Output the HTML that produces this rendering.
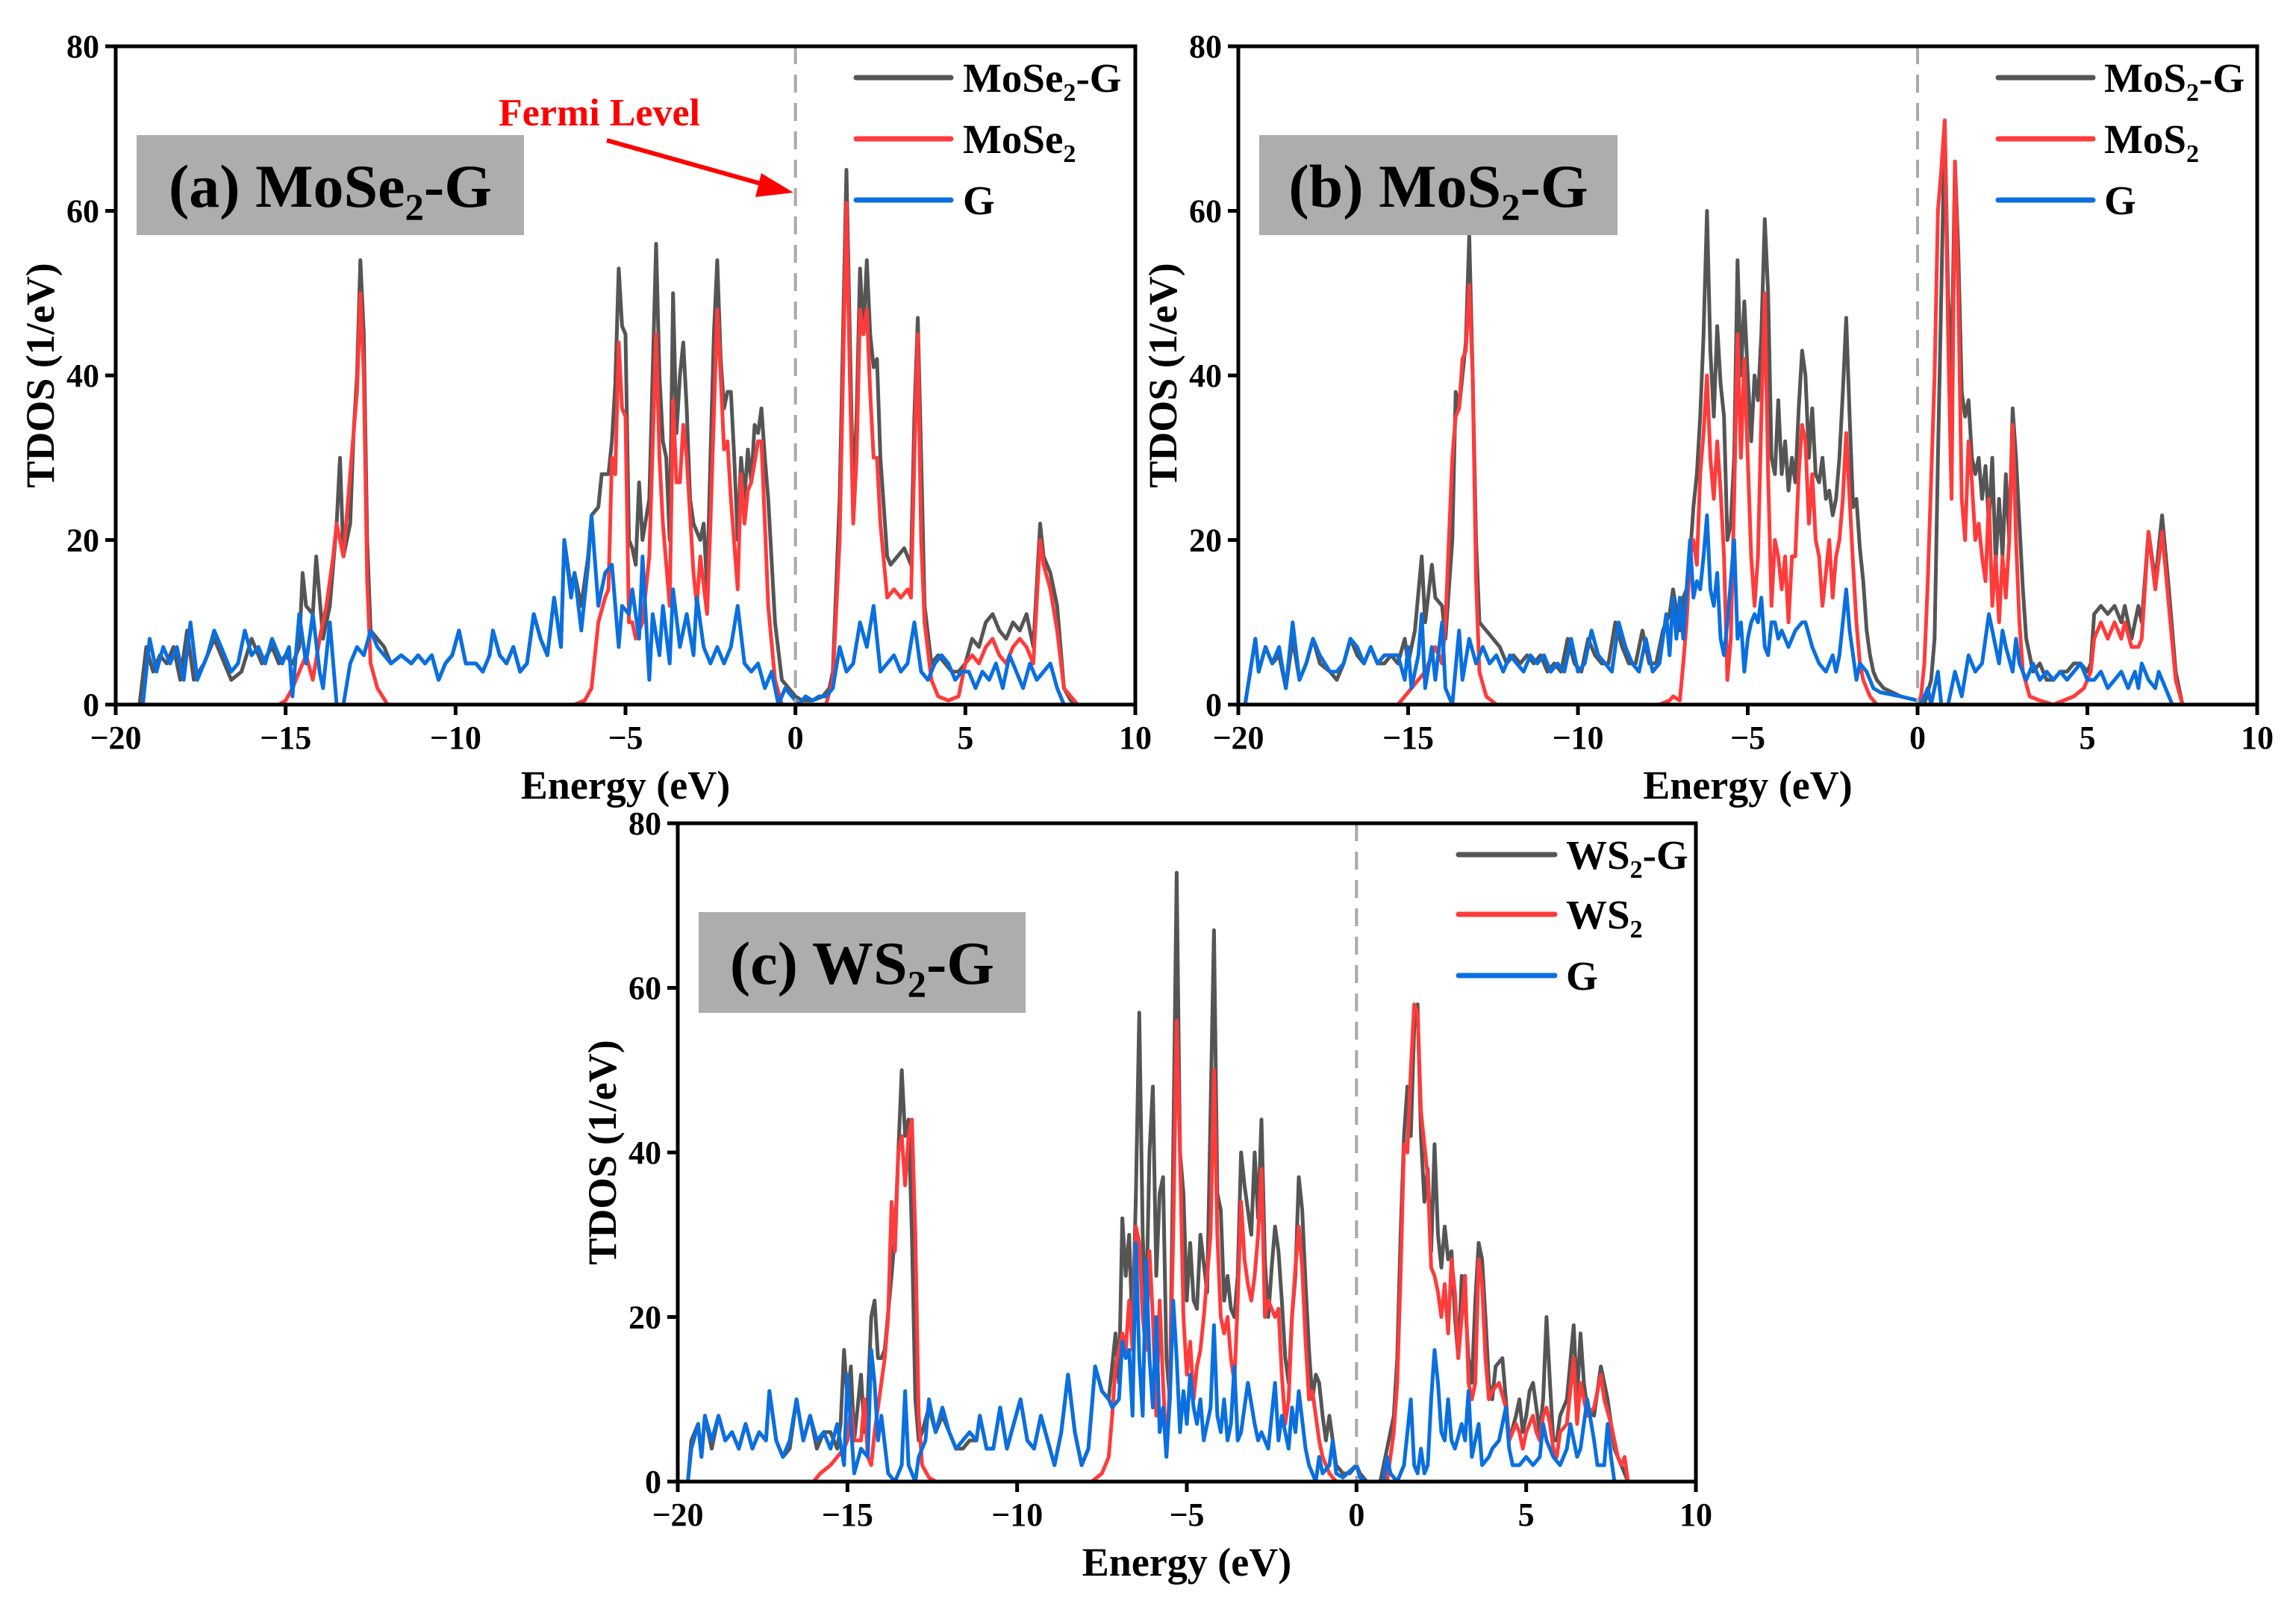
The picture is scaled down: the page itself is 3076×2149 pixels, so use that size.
<!DOCTYPE html>
<html><head><meta charset="utf-8">
<style>
html,body{margin:0;padding:0;background:#fff;}
svg{display:block;}
text{font-family:"Liberation Serif",serif;font-weight:bold;}
</style></head>
<body>
<svg id="fig" width="3076" height="2149" viewBox="0 0 3076 2149" xmlns="http://www.w3.org/2000/svg"></svg>
<script>
// ---------- DATA (energy in eV, TDOS in 1/eV) ----------
const xTicks = [-20,-15,-10,-5,0,5,10];
const xTickLabels = ["\u221220","\u221215","\u221210","\u22125","0","5","10"];
const yTicks = [0,20,40,60,80];
const yTickLabels = ["0","20","40","60","80"];

// Panel (a) MoSe2-G
const aTotalE = [-20,-19.6,-19.3,-19.1,-18.9,-18.7,-18.5,-18.3,-18.1,-17.9,-17.7,-17.4,-17.1,-16.9,-16.6,-16.3,-16.0,-15.7,-15.4,-15.2,-15.0,-14.8,-14.6,-14.5,-14.4,-14.2,-14.1,-13.9,-13.7,-13.5,-13.4,-13.3,-13.1,-13.0,-12.9,-12.8,-12.7,-12.6,-12.5,-12.3,-12.1,-11.9,-11.6,-11.3,-11.1,-10.9,-10.7,-10.5,-10.3,-10.1,-9.9,-9.7,-9.4,-9.2,-9.0,-8.9,-8.7,-8.5,-8.3,-8.1,-7.9,-7.7,-7.5,-7.3,-7.1,-6.9,-6.8,-6.6,-6.5,-6.3,-6.1,-6.0,-5.8,-5.7,-5.5,-5.4,-5.3,-5.2,-5.1,-5.0,-4.9,-4.8,-4.7,-4.6,-4.5,-4.3,-4.1,-4.0,-3.9,-3.8,-3.7,-3.6,-3.5,-3.4,-3.3,-3.2,-3.1,-3.0,-2.8,-2.7,-2.6,-2.5,-2.4,-2.3,-2.2,-2.1,-2.0,-1.9,-1.8,-1.7,-1.6,-1.5,-1.4,-1.3,-1.2,-1.1,-1.0,-0.9,-0.8,-0.6,-0.4,-0.2,0,0.2,0.5,0.8,1.0,1.1,1.3,1.4,1.5,1.6,1.7,1.8,1.9,2.0,2.1,2.2,2.3,2.4,2.5,2.7,2.8,3.0,3.2,3.4,3.5,3.6,3.7,3.8,4.0,4.2,4.4,4.6,4.8,5.0,5.2,5.4,5.6,5.8,6.0,6.2,6.4,6.6,6.8,7.0,7.2,7.3,7.5,7.7,7.9,8.1,8.3,10];
const aTotalV = [0,0,0,7,4,6,5,7,3,9,3,5,8,6,3,4,8,5,7,5,6,5,7,16,12,11,18,8,12,22,30,18,22,33,40,54,45,20,9,8,7,5,6,5,6,5,6,3,5,6,9,5,5,4,6,9,6,5,7,4,5,11,8,6,13,7,20,14,16,12,18,23,24,28,28,32,39,53,46,45,20,19,17,27,20,25,56,40,32,30,20,50,33,40,44,36,25,22,20,22,14,30,45,54,42,36,38,38,30,20,30,25,31,27,34,33,36,30,25,10,3,2,1,0.5,0.5,1,2,4,25,45,65,45,25,35,53,45,54,45,41,42,30,18,17,18,19,17,35,47,30,12,5,6,5,4,4,5,8,7,10,11,9,8,10,9,11,7,22,18,16,12,2,0.5,0,0];
const aHostE = [-20,-15.2,-15.0,-14.8,-14.6,-14.4,-14.2,-14.0,-13.8,-13.6,-13.5,-13.3,-13.1,-13.0,-12.9,-12.8,-12.7,-12.6,-12.5,-12.3,-12.0,-6.5,-6.2,-6.0,-5.8,-5.6,-5.5,-5.4,-5.3,-5.2,-5.1,-5.0,-4.9,-4.8,-4.7,-4.5,-4.3,-4.1,-4.0,-3.9,-3.7,-3.6,-3.5,-3.4,-3.3,-3.2,-3.0,-2.9,-2.8,-2.6,-2.5,-2.3,-2.2,-2.1,-2.0,-1.9,-1.7,-1.6,-1.5,-1.4,-1.3,-1.1,-1.0,-0.9,-0.8,-0.6,-0.4,0.9,1.1,1.3,1.4,1.5,1.6,1.7,1.8,1.9,2.0,2.1,2.2,2.3,2.4,2.5,2.7,2.9,3.1,3.3,3.4,3.5,3.6,3.7,3.8,4.0,4.2,4.5,4.8,5.0,5.2,5.4,5.6,5.8,6.0,6.2,6.4,6.6,6.8,7.0,7.2,7.3,7.5,7.7,7.9,8.1,8.3,10];
const aHostV = [0,0,0.5,2,4,6,3,8,12,18,22,18,28,33,38,50,40,15,5,2,0,0,0.5,2,10,13,14,30,28,44,36,35,10,10,8,10,18,45,30,22,12,37,27,27,34,30,16,12,18,11,22,48,40,31,32,25,14,28,22,26,27,32,32,22,12,3,0,0,3,20,40,61,40,22,30,48,45,48,38,30,30,22,13,14,13,14,13,30,45,20,10,3,1,0.5,1,5,6,5,7,8,6,5,7,8,7,5,20,17,14,9,2,1,0,0];
const aGE = [-20,-19.2,-19.0,-18.8,-18.6,-18.4,-18.2,-18.0,-17.8,-17.6,-17.3,-17.1,-16.9,-16.6,-16.4,-16.2,-16.0,-15.8,-15.6,-15.4,-15.1,-14.9,-14.8,-14.6,-14.4,-14.2,-14.0,-13.9,-13.7,-13.5,-13.3,-13.1,-12.9,-12.7,-12.5,-12.3,-12.1,-11.9,-11.6,-11.3,-11.1,-10.9,-10.7,-10.5,-10.3,-10.1,-9.9,-9.7,-9.4,-9.2,-9.0,-8.9,-8.7,-8.5,-8.3,-8.1,-7.9,-7.7,-7.5,-7.3,-7.1,-6.9,-6.8,-6.6,-6.5,-6.3,-6.1,-6.0,-5.8,-5.6,-5.4,-5.2,-5.1,-4.9,-4.8,-4.6,-4.5,-4.3,-4.2,-4.0,-3.9,-3.7,-3.6,-3.4,-3.2,-3.0,-2.9,-2.7,-2.5,-2.3,-2.1,-1.9,-1.7,-1.5,-1.3,-1.1,-0.9,-0.7,-0.5,-0.3,-0.1,0.1,0.3,0.5,0.7,0.9,1.1,1.3,1.5,1.7,1.9,2.1,2.3,2.5,2.7,2.9,3.1,3.3,3.5,3.7,3.9,4.1,4.3,4.5,4.7,4.9,5.1,5.3,5.5,5.7,5.9,6.1,6.3,6.5,6.7,6.9,7.1,7.3,7.5,7.7,7.9,10];
const aGV = [0,0,8,4,7,5,7,3,10,3,6,9,7,4,5,9,6,7,5,8,5,7,1,11,5,11,4,2,10,0,0,5,7,6,9,7,6,5,6,5,6,5,6,3,5,6,9,5,5,4,6,9,6,5,7,4,5,11,8,6,13,7,20,13,16,9,17,23,12,16,17,7,12,11,14,8,18,3,11,6,12,5,14,7,11,6,13,7,5,7,5,7,12,5,4,5,2,4,0,2,1,0,1,0.5,1,1,2,7,4,5,10,7,12,4,5,6,4,5,10,4,3,5,6,5,3,4,4,2,4,3,5,2,6,4,2,5,3,4,5,2,0,0];

// Panel (b) MoS2-G
const bTotalE = [-20,-19.8,-19.5,-19.4,-19.2,-19.0,-18.8,-18.6,-18.4,-18.2,-18.0,-17.8,-17.6,-17.3,-17.1,-16.9,-16.7,-16.5,-16.3,-16.1,-15.9,-15.7,-15.5,-15.3,-15.1,-15.0,-14.8,-14.6,-14.5,-14.3,-14.2,-14.0,-13.9,-13.7,-13.6,-13.5,-13.4,-13.3,-13.2,-13.1,-13.0,-12.9,-12.7,-12.5,-12.3,-12.1,-11.9,-11.7,-11.5,-11.3,-11.1,-10.9,-10.7,-10.5,-10.3,-10.1,-9.9,-9.7,-9.5,-9.3,-9.1,-8.9,-8.7,-8.5,-8.3,-8.1,-7.9,-7.7,-7.5,-7.3,-7.2,-7.0,-6.9,-6.8,-6.7,-6.6,-6.5,-6.4,-6.3,-6.2,-6.1,-6.0,-5.9,-5.8,-5.7,-5.6,-5.5,-5.4,-5.3,-5.2,-5.1,-5.0,-4.9,-4.8,-4.7,-4.6,-4.5,-4.4,-4.3,-4.2,-4.1,-4.0,-3.9,-3.8,-3.7,-3.6,-3.5,-3.4,-3.3,-3.2,-3.1,-3.0,-2.9,-2.8,-2.7,-2.6,-2.5,-2.4,-2.3,-2.2,-2.1,-2.0,-1.9,-1.8,-1.7,-1.6,-1.5,-1.4,-1.3,-1.2,-1.0,-0.5,0,0.2,0.4,0.5,0.6,0.7,0.8,0.9,1.0,1.1,1.2,1.3,1.4,1.5,1.6,1.7,1.8,1.9,2.0,2.1,2.2,2.3,2.4,2.5,2.6,2.7,2.8,2.9,3.0,3.1,3.2,3.4,3.6,3.8,4.0,4.2,4.4,4.6,4.8,5.0,5.1,5.2,5.4,5.6,5.8,6.0,6.1,6.3,6.5,6.6,6.8,7.0,7.2,7.4,7.6,7.8,10];
const bTotalV = [0,0,8,4,7,5,6,2,8,3,5,8,5,4,3,5,8,6,5,7,5,5,6,5,8,5,9,18,10,17,13,12,8,20,38,36,40,44,57,40,20,10,9,8,7,5,6,5,6,5,6,4,5,4,8,5,4,8,6,5,5,10,7,5,5,9,5,5,9,11,14,9,13,14,18,24,28,35,45,60,43,35,46,39,35,20,22,30,54,40,49,40,32,40,37,45,59,50,30,28,37,28,32,26,30,27,36,43,40,30,36,28,27,30,25,26,23,25,30,38,47,35,24,25,19,15,9,6,4,3,2,1,0.5,0,3,8,30,50,71,50,40,66,55,38,35,37,30,28,30,25,29,22,30,17,25,18,28,20,36,30,22,14,8,4,5,3,3,4,4,5,5,4,5,11,12,11,12,10,12,8,12,10,21,15,23,14,4,0,0];
const bHostE = [-20,-15.3,-15.1,-14.9,-14.7,-14.5,-14.3,-14.2,-14.0,-13.9,-13.8,-13.7,-13.6,-13.5,-13.4,-13.3,-13.2,-13.1,-13.0,-12.9,-12.7,-12.4,-7.6,-7.3,-7.2,-7.0,-6.9,-6.8,-6.7,-6.6,-6.5,-6.4,-6.3,-6.2,-6.1,-6.0,-5.9,-5.8,-5.7,-5.6,-5.5,-5.4,-5.3,-5.2,-5.1,-5.0,-4.9,-4.8,-4.7,-4.6,-4.5,-4.4,-4.3,-4.2,-4.1,-4.0,-3.9,-3.8,-3.7,-3.6,-3.5,-3.4,-3.3,-3.2,-3.1,-3.0,-2.9,-2.8,-2.7,-2.6,-2.5,-2.4,-2.3,-2.2,-2.1,-2.0,-1.9,-1.8,-1.7,-1.6,-1.4,-1.2,0,0.1,0.2,0.3,0.5,0.6,0.7,0.8,0.9,1.0,1.1,1.2,1.3,1.4,1.5,1.6,1.7,1.8,1.9,2.0,2.1,2.2,2.3,2.4,2.5,2.6,2.7,2.8,2.9,3.0,3.1,3.3,3.6,4.0,4.6,4.9,5.1,5.2,5.4,5.6,5.8,6.0,6.1,6.3,6.5,6.6,6.8,7.0,7.2,7.4,7.6,7.8,10];
const bHostV = [0,0,1,2,3,4,6,7,5,10,20,30,35,36,42,43,51,40,15,4,1,0,0,0.5,1,0.5,5,10,18,20,17,28,33,40,30,25,32,26,18,3,8,25,45,30,42,30,18,12,18,35,50,28,12,20,18,14,18,10,18,18,28,34,32,22,28,20,18,12,16,20,13,18,20,25,33,25,17,10,5,3,1,0,0,1,5,15,40,60,65,71,45,25,66,50,25,20,32,27,20,22,18,15,25,12,18,10,18,13,20,34,20,10,4,1,0.5,0,1,2,4,8,10,8,10,8,10,7,7,8,21,14,21,12,3,0,0];
const bGE = [-20,-19.8,-19.5,-19.4,-19.2,-19.0,-18.8,-18.6,-18.4,-18.2,-18.0,-17.8,-17.6,-17.3,-17.1,-16.9,-16.7,-16.5,-16.3,-16.1,-15.9,-15.7,-15.5,-15.3,-15.1,-15.0,-14.9,-14.7,-14.6,-14.5,-14.3,-14.2,-14.0,-13.9,-13.7,-13.5,-13.4,-13.2,-13.0,-12.8,-12.6,-12.4,-12.2,-12.0,-11.8,-11.6,-11.4,-11.2,-11.0,-10.8,-10.6,-10.4,-10.2,-10.0,-9.8,-9.6,-9.4,-9.2,-9.0,-8.8,-8.6,-8.4,-8.2,-8.0,-7.8,-7.6,-7.4,-7.3,-7.2,-7.1,-7.0,-6.9,-6.8,-6.7,-6.6,-6.5,-6.4,-6.3,-6.2,-6.1,-6.0,-5.9,-5.8,-5.7,-5.6,-5.5,-5.4,-5.3,-5.2,-5.1,-5.0,-4.9,-4.8,-4.7,-4.6,-4.5,-4.4,-4.3,-4.2,-4.1,-4.0,-3.8,-3.6,-3.4,-3.3,-3.1,-2.9,-2.7,-2.5,-2.4,-2.3,-2.2,-2.1,-2.0,-1.9,-1.8,-1.7,-1.5,-1.3,-1.1,-0.5,0,0.1,0.3,0.4,0.6,0.7,0.9,1.1,1.3,1.5,1.7,1.9,2.1,2.2,2.4,2.5,2.6,2.8,2.9,3.0,3.2,3.4,3.6,3.8,4.0,4.2,4.4,4.6,4.8,5.0,5.2,5.4,5.6,5.8,6.0,6.2,6.4,6.5,6.6,6.8,7.0,7.1,7.3,7.5,10];
const bGV = [0,0,8,4,7,5,7,2,10,3,5,8,6,4,4,5,8,7,5,7,5,6,6,6,3,7,2,6,11,2,7,3,10,2,0,9,3,8,5,7,5,6,4,6,5,4,6,5,6,4,5,4,8,4,5,9,6,5,4,10,7,5,4,8,4,5,11,6,13,8,13,8,14,20,13,15,14,18,23,14,12,16,8,6,10,15,20,8,10,4,8,10,11,10,13,7,6,10,10,8,9,7,9,10,10,7,5,4,6,4,6,10,14,9,6,3,5,4,2,1.5,1,0.5,0,2,0,4,0,0,4,1,6,4,5,11,9,5,9,7,4,8,5,3,5,3,4,3,4,3,4,5,3,3,4,2,3,4,2,4,2,5,3,2,4,2,0,0];

// Panel (c) WS2-G
const cTotalE = [-20,-19.7,-19.6,-19.4,-19.3,-19.2,-19.0,-18.8,-18.6,-18.4,-18.2,-18.0,-17.8,-17.6,-17.4,-17.3,-17.1,-16.9,-16.7,-16.5,-16.3,-16.1,-15.9,-15.7,-15.5,-15.3,-15.2,-15.1,-15.0,-14.9,-14.8,-14.6,-14.5,-14.4,-14.3,-14.2,-14.1,-14.0,-13.9,-13.7,-13.6,-13.5,-13.4,-13.3,-13.2,-13.1,-13.0,-12.9,-12.8,-12.6,-12.4,-12.2,-12.0,-11.8,-11.6,-11.4,-11.2,-11.1,-10.9,-10.7,-10.5,-10.3,-10.1,-9.9,-9.7,-9.5,-9.3,-9.1,-8.9,-8.7,-8.5,-8.3,-8.1,-7.9,-7.7,-7.5,-7.3,-7.1,-7.0,-6.9,-6.8,-6.7,-6.6,-6.5,-6.4,-6.3,-6.2,-6.1,-6.0,-5.9,-5.8,-5.7,-5.6,-5.5,-5.4,-5.3,-5.2,-5.1,-5.0,-4.9,-4.8,-4.7,-4.6,-4.4,-4.3,-4.2,-4.1,-4.0,-3.9,-3.8,-3.7,-3.6,-3.5,-3.4,-3.3,-3.2,-3.1,-3.0,-2.9,-2.8,-2.7,-2.6,-2.5,-2.4,-2.3,-2.2,-2.1,-2.0,-1.9,-1.8,-1.7,-1.6,-1.5,-1.4,-1.3,-1.2,-1.1,-1.0,-0.9,-0.8,-0.7,-0.6,-0.4,-0.2,0,0.1,0.3,0.7,0.8,0.9,1.0,1.1,1.2,1.3,1.4,1.5,1.6,1.7,1.8,1.9,2.0,2.1,2.2,2.3,2.4,2.5,2.6,2.7,2.8,2.9,3.0,3.1,3.2,3.3,3.4,3.5,3.6,3.7,3.8,3.9,4.0,4.1,4.3,4.4,4.5,4.7,4.8,4.9,5.0,5.1,5.2,5.3,5.4,5.5,5.6,5.7,5.8,5.9,6.0,6.2,6.4,6.5,6.6,6.7,6.8,7.0,7.2,7.4,7.6,7.8,8.0,10];
const cTotalV = [0,0,5,7,3,8,4,8,5,6,4,7,4,6,5,11,5,3,4,10,5,8,4,6,6,4,7,16,10,14,5,13,6,10,20,22,15,15,16,25,30,40,50,42,44,30,10,5,6,9,6,8,6,4,4,5,5,8,4,4,9,4,7,10,5,4,8,5,2,6,13,6,2,4,14,11,10,18,12,32,25,30,18,35,57,30,20,40,48,25,35,37,15,10,40,74,40,35,22,29,22,21,30,23,45,67,35,33,22,25,21,20,25,40,36,33,30,40,32,44,27,20,26,31,28,22,15,12,20,25,37,33,24,16,10,13,12,8,5,8,5,2,1,1,2,1,0,0,2,4,6,8,15,30,42,48,42,55,58,42,34,38,28,41,30,26,31,27,28,20,15,25,22,15,12,22,29,27,20,12,10,14,15,10,5,8,10,6,8,11,12,9,6,10,20,12,5,5,8,10,19,10,18,12,9,8,14,10,4,2,0,0];
const cHostE = [-20,-16.0,-15.8,-15.5,-15.3,-15.1,-15.0,-14.9,-14.8,-14.6,-14.5,-14.4,-14.3,-14.2,-14.0,-13.9,-13.8,-13.7,-13.6,-13.5,-13.4,-13.3,-13.2,-13.1,-13.0,-12.9,-12.8,-12.6,-12.4,-7.8,-7.5,-7.3,-7.2,-7.1,-7.0,-6.9,-6.8,-6.7,-6.6,-6.5,-6.4,-6.3,-6.2,-6.1,-6.0,-5.9,-5.8,-5.7,-5.6,-5.5,-5.4,-5.3,-5.2,-5.1,-5.0,-4.9,-4.8,-4.7,-4.6,-4.5,-4.3,-4.2,-4.1,-4.0,-3.9,-3.8,-3.7,-3.6,-3.5,-3.4,-3.3,-3.2,-3.1,-3.0,-2.9,-2.8,-2.7,-2.6,-2.5,-2.4,-2.3,-2.2,-2.1,-2.0,-1.9,-1.8,-1.7,-1.6,-1.5,-1.4,-1.3,-1.2,-1.1,-1.0,-0.8,-0.6,0.9,1.0,1.1,1.2,1.3,1.4,1.5,1.6,1.7,1.8,1.9,2.0,2.1,2.2,2.3,2.4,2.5,2.6,2.7,2.8,2.9,3.0,3.1,3.2,3.3,3.4,3.5,3.6,3.7,3.8,3.9,4.0,4.2,4.4,4.5,4.7,4.8,4.9,5.0,5.1,5.2,5.3,5.4,5.5,5.6,5.7,5.8,5.9,6.0,6.2,6.4,6.5,6.6,6.7,6.8,7.0,7.2,7.3,7.5,7.7,7.8,7.9,8.0,10];
const cHostV = [0,0,1,2,3,4,5,9,5,5,10,3,2,6,12,15,20,34,28,40,42,36,42,44,30,8,2,0.5,0,0,1,3,8,14,16,18,16,22,16,31,29,20,16,28,20,8,22,12,3,12,30,56,40,20,13,17,10,14,16,20,30,50,30,20,18,20,15,12,22,34,27,24,22,25,30,38,20,22,21,20,21,13,7,10,20,26,31,26,17,10,11,8,5,3,1,0,0,3,6,12,25,41,40,50,58,57,45,41,37,26,25,23,20,24,18,27,23,15,20,25,12,10,12,27,24,15,10,11,12,9,5,7,6,4,6,7,8,6,5,8,9,7,4,3,6,7,15,7,12,10,8,9,13,10,7,3,2,3,0,0];
const cGE = [-20,-19.7,-19.6,-19.4,-19.3,-19.2,-19.0,-18.8,-18.6,-18.4,-18.2,-18.0,-17.8,-17.6,-17.4,-17.3,-17.1,-16.9,-16.7,-16.5,-16.3,-16.1,-15.9,-15.7,-15.5,-15.3,-15.1,-15.0,-14.8,-14.6,-14.4,-14.3,-14.2,-14.1,-14.0,-13.8,-13.6,-13.4,-13.3,-13.2,-13.0,-12.9,-12.7,-12.6,-12.4,-12.2,-12.0,-11.8,-11.6,-11.4,-11.2,-11.1,-10.9,-10.7,-10.5,-10.3,-10.1,-9.9,-9.7,-9.5,-9.3,-9.1,-8.9,-8.7,-8.5,-8.3,-8.1,-7.9,-7.7,-7.5,-7.3,-7.2,-7.0,-6.9,-6.8,-6.7,-6.6,-6.5,-6.4,-6.3,-6.2,-6.1,-6.0,-5.9,-5.8,-5.7,-5.6,-5.5,-5.4,-5.3,-5.2,-5.1,-5.0,-4.9,-4.8,-4.7,-4.6,-4.5,-4.3,-4.2,-4.1,-4.0,-3.9,-3.8,-3.7,-3.6,-3.5,-3.4,-3.2,-3.0,-2.9,-2.8,-2.6,-2.4,-2.3,-2.2,-2.0,-1.9,-1.8,-1.7,-1.5,-1.4,-1.2,-1.1,-1.0,-0.8,-0.7,-0.6,-0.4,0,0.1,0.3,0.8,0.9,1.0,1.2,1.4,1.6,1.7,1.8,1.9,2.0,2.1,2.2,2.3,2.4,2.5,2.6,2.7,2.8,2.9,3.1,3.2,3.3,3.4,3.6,3.7,3.9,4.0,4.2,4.4,4.5,4.6,4.8,5.0,5.2,5.4,5.5,5.6,5.8,6.0,6.2,6.3,6.5,6.6,6.8,7.0,7.1,7.3,7.4,7.5,7.6,10];
const cGV = [0,0,4,7,3,8,5,8,5,6,4,7,4,6,5,11,5,3,5,10,5,8,5,6,4,7,2,13,1,4,3,16,12,5,8,1,0,2,11,2,0,3,5,10,6,9,6,4,5,6,5,8,4,4,9,4,7,10,5,4,8,5,2,6,13,6,2,4,14,11,10,9,10,17,15,16,8,29,15,8,27,15,9,20,6,9,3,10,22,15,6,11,7,13,9,7,10,5,9,19,8,6,10,5,7,14,5,6,12,7,5,6,4,12,5,8,4,9,6,11,4,2,0,3,1,2,5,1,0.5,2,0.5,0,0,3,1,0,2,10,2,1,4,1,2,10,16,12,6,5,10,5,4,7,5,11,3,7,2,3,4,5,9,4,2,2,3,2,3,7,5,3,2,4,7,3,4,10,5,2,2,7,3,0,0];

// ---------- LAYOUT ----------
const svg = document.getElementById('fig');
const NS = 'http://www.w3.org/2000/svg';
function mk(tag, attrs, parent){
  const el = document.createElementNS(NS, tag);
  for (const k in attrs) el.setAttribute(k, attrs[k]);
  (parent||svg).appendChild(el);
  return el;
}
const COLORS = {total:'#555555', host:'#ff3b3b', g:'#0a6fe0'};

const panels = [
  {id:'a', L:155, T:62, R:1521, B:944, title:['(a) MoSe','2','-G'], box:[183,181,519,134], tb:277,
   leg:{x1:1147,x2:1274,tx:1290,ys:[104,186,268]}, names:[['MoSe','2','-G'],['MoSe','2',''],['G','','']],
   series:[[aTotalE,aTotalV,'total'],[aHostE,aHostV,'host'],[aGE,aGV,'g']]},
  {id:'b', L:1659, T:62, R:3024, B:944, title:['(b) MoS','2','-G'], box:[1687,181,480,134], tb:277,
   leg:{x1:2677,x2:2804,tx:2819,ys:[104,186,268]}, names:[['MoS','2','-G'],['MoS','2',''],['G','','']],
   series:[[bTotalE,bTotalV,'total'],[bHostE,bHostV,'host'],[bGE,bGV,'g']]},
  {id:'c', L:908, T:1103, R:2272, B:1985, title:['(c) WS','2','-G'], box:[936,1222,438,135], tb:1318,
   leg:{x1:1954,x2:2083,tx:2098,ys:[1145,1225,1307]}, names:[['WS','2','-G'],['WS','2',''],['G','','']],
   series:[[cTotalE,cTotalV,'total'],[cHostE,cHostV,'host'],[cGE,cGV,'g']]}
];

function subText(parent, x, y, parts, size, anchor){
  const t = mk('text', {x:x, y:y, 'font-size':size, fill:'#000', 'text-anchor':anchor||'start'}, parent);
  t.appendChild(document.createTextNode(parts[0]));
  if (parts[1]) {
    const s = mk('tspan', {'font-size':size*0.62, dy:size*0.22}, t);
    s.textContent = parts[1];
    const r = mk('tspan', {dy:-size*0.22}, t);
    r.textContent = parts[2];
  }
  return t;
}

panels.forEach(p => {
  const g = mk('g', {});
  
  
  const xs = e => p.L + (e + 20) / 30 * (p.R - p.L);
  const ys = v => p.B - v / 80 * (p.B - p.T);

  // series
  const sg = mk('g', {'clip-path':'url(#clip-' + p.id + ')'}, g);
  const cp = mk('clipPath', {id:'clip-' + p.id}, g);
  mk('rect', {x:p.L, y:p.T - 2, width:p.R - p.L, height:p.B - p.T + 2}, cp);
  p.series.forEach(s => {
    const E = s[0], V = s[1];
    const pts = E.map((e, i) => xs(e).toFixed(1) + ',' + ys(V[i]).toFixed(1)).join(' ');
    const pl = mk('polyline', {points:pts, fill:'none', stroke:COLORS[s[2]], 'stroke-width':5, 'stroke-linejoin':'round', 'stroke-linecap':'round'}, sg);
    
    
  });

  // fermi level dashed line
  const fl = mk('line', {x1:xs(0), x2:xs(0), y1:p.T, y2:p.B, stroke:'#a9a9a9', 'stroke-width':4, 'stroke-dasharray':'24 14'}, g);
  
  

  // frame
  const fr = mk('rect', {x:p.L, y:p.T, width:p.R - p.L, height:p.B - p.T, fill:'none', stroke:'#000', 'stroke-width':5}, g);
  
  

  // x ticks
  xTicks.forEach((t, i) => {
    mk('line', {x1:xs(t), x2:xs(t), y1:p.B, y2:p.B + 14, stroke:'#000', 'stroke-width':5}, g);
    const tl = mk('text', {x:xs(t), y:p.B + 59, 'font-size':44, 'text-anchor':'middle'}, g);
    tl.textContent = xTickLabels[i];
    
    
  });
  // y ticks
  yTicks.forEach((t, i) => {
    mk('line', {x1:p.L - 14, x2:p.L, y1:ys(t), y2:ys(t), stroke:'#000', 'stroke-width':5}, g);
    const tl = mk('text', {x:p.L - 22, y:ys(t) + 15, 'font-size':44, 'text-anchor':'end'}, g);
    tl.textContent = yTickLabels[i];
    
    
  });

  // axis titles
  const xt = mk('text', {x:(p.L + p.R) / 2, y:p.B + 126, 'font-size':54, 'text-anchor':'middle'}, g);
  xt.textContent = 'Energy (eV)';
  
  
  const cy = (p.T + p.B) / 2, cx = p.L - 101;
  const yt = mk('text', {x:cx, y:cy, 'font-size':54, 'text-anchor':'middle', 'dominant-baseline':'central', transform:'rotate(-90 ' + cx + ' ' + cy + ')'}, g);
  yt.textContent = 'TDOS (1/eV)';
  
  

  // title box
  const bx = mk('rect', {x:p.box[0], y:p.box[1], width:p.box[2], height:p.box[3], fill:'#adadad'}, g);
  
  
  const tt = subText(g, p.box[0] + p.box[2] / 2, p.tb, p.title, 82, 'middle');
  
  

  // legend
  ['total','host','g'].forEach((k, i) => {
    const y = p.leg.ys[i];
    const ll = mk('line', {x1:p.leg.x1, x2:p.leg.x2, y1:y, y2:y, stroke:COLORS[k], 'stroke-width':7, 'stroke-linecap':'round'}, g);
    
    
    const lt = subText(g, p.leg.tx, y + 19, p.names[i], 55, 'start');
    
    
  });
});

// Fermi level annotation (panel a)
const fTxt = mk('text', {x:668, y:168, 'font-size':52, fill:'#ff0000'});
fTxt.textContent = 'Fermi Level';


const arr = mk('line', {x1:813, y1:188, x2:1030, y2:249, stroke:'#ff0000', 'stroke-width':6});


const head = mk('polygon', {points:'1063,258 1020,232 1012,264', fill:'#ff0000'});


</script>
</body></html>
